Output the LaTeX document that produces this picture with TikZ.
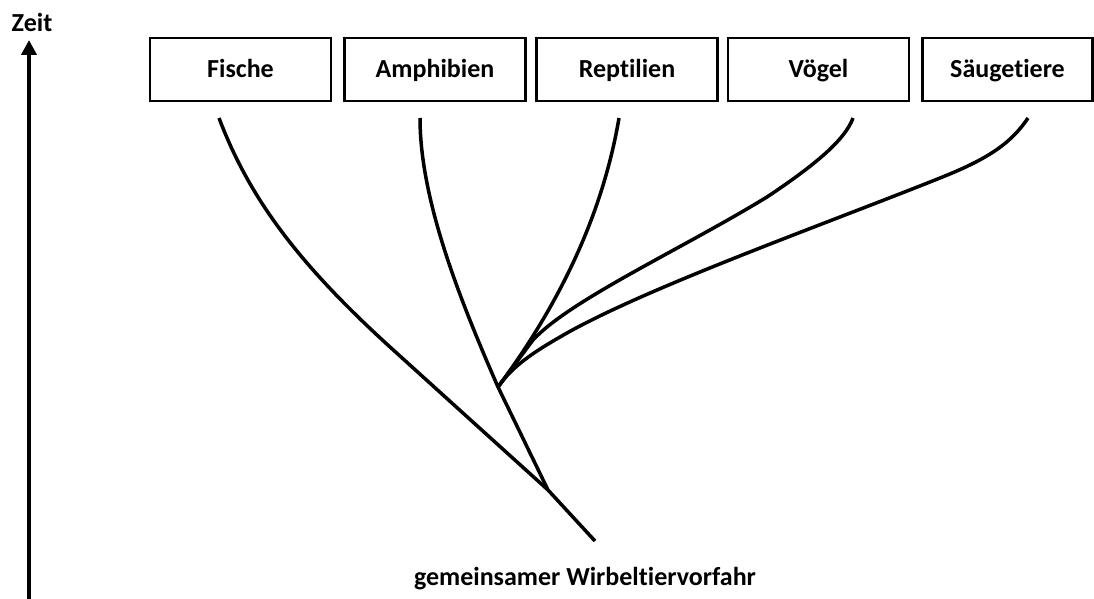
\documentclass[tikz,border=0pt]{standalone}
\usepackage{fontspec}
\setmainfont{Carlito}[Ligatures={NoCommon}]
\usetikzlibrary{arrows.meta}
\begin{document}
\begin{tikzpicture}[x=1pt,y=-1pt,
  taxon/.style={draw,line width=2.5pt,minimum width=181pt,minimum height=63pt,inner sep=0pt,
    text height=20pt,text depth=3pt,font=\fontsize{26}{28}\selectfont\bfseries},
  branch/.style={line width=3.5pt,line join=round},
  lbl/.style={font=\fontsize{26}{28}\selectfont\bfseries,inner sep=0pt,anchor=base}]
\useasboundingbox (0,0) rectangle (1094,599);
\node[taxon] (fische) at (240.5,69.5) {Fische};
\node[taxon] (amph) at (435,69.5) {Amphibien};
\node[taxon] (rept) at (627,69.5) {Reptilien};
\node[taxon] (voegel) at (818.5,69.5) {Vögel};
\node[taxon,minimum width=170pt] (saeug) at (1007.5,69.5) {Säugetiere};
\node[lbl] (zeit) at (32,32) {Zeit};
\node[lbl] (vorfahr) at (585,585) {gemeinsamer Wirbeltiervorfahr};
\coordinate (axbot) at (29,599);
\coordinate (axtop) at (29,40);
\draw[line width=4pt,-{Triangle[length=15pt,width=15pt]}] (axbot) -- (axtop);
\coordinate (root) at (595,541);
\coordinate (j1) at (548,490);
\coordinate (j2) at (498,387);
\coordinate (fs) at (219,118);
\coordinate (as) at (420,118);
\coordinate (rs) at (619,118);
\coordinate (vs) at (853,118);
\coordinate (ss) at (1028,118);
% Fische
\draw[branch] (fs) .. controls (250,200) and (300,265) .. (390,347) -- (j1);
% Amphibien and stem
\draw[branch] (as) .. controls (420,200) and (460,300) .. (j2) -- (j1) -- (root);
% Reptilien
\draw[branch] (rs) .. controls (605,200) and (570,290) .. (j2);
% Voegel
\draw[branch] (vs) .. controls (845,140) and (815,165) .. (767,197)
  .. controls (680,250) and (570,300) .. (533,340) -- (j2);
% Saeugetiere
\draw[branch] (ss) .. controls (1010,145) and (985,160) .. (940,178)
  .. controls (820,226) and (640,290) .. (560,337)
  .. controls (525,357) and (510,370) .. (j2);
\end{tikzpicture}
\end{document}
